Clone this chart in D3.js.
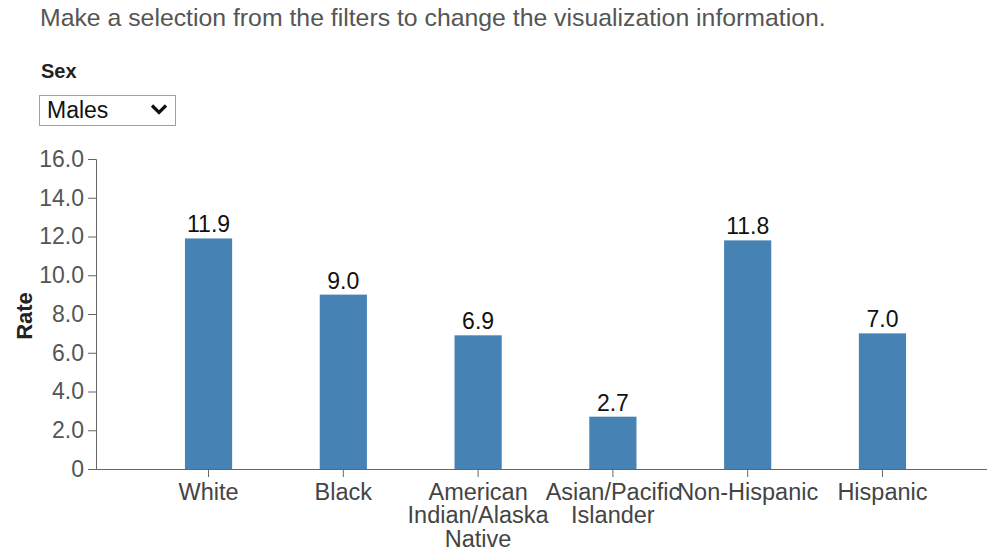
<!DOCTYPE html>
<html>
<head>
<meta charset="utf-8">
<script src="https://cdn.jsdelivr.net/npm/d3@7"></script>
<style>
  html, body { margin: 0; padding: 0; background: #fff; }
  svg { display: block; font-family: "Liberation Sans", Arial, sans-serif; }
</style>
</head>
<body>
<svg id="chart" width="987" height="551"></svg>
<script>
// Rates by race / ethnicity, males
const categories = ["White", "Black", "American Indian/Alaska Native", "Asian/Pacific Islander", "Non-Hispanic", "Hispanic"];
const rates = [11.9, 9.0, 6.9, 2.7, 11.8, 7.0];
const yTicks = [0, 2, 4, 6, 8, 10, 12, 14, 16];
const sexOptions = ["Males"];

const svg = d3.select("#chart");

// Intro line and filter control
svg.append("text")
  .attr("x", 40).attr("y", 26)
  .attr("font-size", "24.8px")
  .attr("fill", "#555")
  .text("Make a selection from the filters to change the visualization information.");

svg.append("text")
  .attr("x", 41).attr("y", 78)
  .attr("font-size", "20px")
  .attr("font-weight", "bold")
  .attr("fill", "#222")
  .text("Sex");

const sel = svg.append("g").attr("transform", "translate(39,95)");
sel.append("rect")
  .attr("x", 0.5).attr("y", 0.5)
  .attr("width", 136).attr("height", 30)
  .attr("fill", "#fff")
  .attr("stroke", "#a0a0a0");
sel.append("text")
  .attr("x", 8).attr("y", 23)
  .attr("font-size", "23px")
  .attr("fill", "#111")
  .text(sexOptions[0]);
sel.append("path")
  .attr("d", "M113,10.5 L120,17.5 L127,10.5")
  .attr("fill", "none")
  .attr("stroke", "#111")
  .attr("stroke-width", 3.2);

// Scales
const x = d3.scaleBand()
  .domain(categories)
  .range([96, 995])
  .paddingInner(0.65)
  .paddingOuter(0.66);

const y = d3.scaleLinear()
  .domain([0, 16])
  .range([469, 159]);

// Bars
svg.append("g")
  .selectAll("rect")
  .data(categories)
  .join("rect")
  .attr("x", d => x(d))
  .attr("width", x.bandwidth())
  .attr("y", (d, i) => y(rates[i]))
  .attr("height", (d, i) => y(0) - y(rates[i]))
  .attr("fill", "#4682b4");

// Value labels
svg.append("g")
  .selectAll("text")
  .data(categories)
  .join("text")
  .attr("x", d => x(d) + x.bandwidth() / 2)
  .attr("y", (d, i) => y(rates[i]) - 6)
  .attr("text-anchor", "middle")
  .attr("font-size", "23px")
  .attr("fill", "#111")
  .text((d, i) => d3.format(".1f")(rates[i]));

// Y axis
const yAxis = svg.append("g")
  .attr("transform", "translate(96,0)")
  .call(d3.axisLeft(y)
    .tickValues(yTicks)
    .tickSize(8)
    .tickPadding(4)
    .tickFormat(d => d === 0 ? "0" : d3.format(".1f")(d)));
yAxis.attr("font-family", null);
yAxis.selectAll("text").attr("font-size", "23px").attr("fill", "#555");
yAxis.selectAll("line, path").attr("stroke", "#666");

// X axis
const xAxis = svg.append("g")
  .attr("transform", "translate(0,469)")
  .call(d3.axisBottom(x).tickSize(8).tickSizeOuter(0).tickPadding(6));
xAxis.attr("font-family", null);
xAxis.selectAll("line, path").attr("stroke", "#666");
xAxis.selectAll("text")
  .attr("font-size", "23.5px")
  .attr("fill", "#444")
  .call(wrap, 150);

// Axis title
svg.append("text")
  .attr("transform", "translate(32,316) rotate(-90)")
  .attr("text-anchor", "middle")
  .attr("font-size", "22px")
  .attr("font-weight", "bold")
  .attr("fill", "#222")
  .text("Rate");

// Break long category names over several lines
function wrap(texts, width) {
  texts.each(function() {
    const text = d3.select(this);
    const words = text.text().split(/\s+/);
    const y0 = text.attr("y");
    const dy = parseFloat(text.attr("dy"));
    text.text(null);
    let line = [];
    let lineNo = 0;
    let tspan = text.append("tspan").attr("x", 0).attr("y", y0).attr("dy", dy + "em");
    for (const w of words) {
      line.push(w);
      tspan.text(line.join(" "));
      if (tspan.node().getComputedTextLength() > width && line.length > 1) {
        line.pop();
        tspan.text(line.join(" "));
        line = [w];
        lineNo++;
        tspan = text.append("tspan")
          .attr("x", 0).attr("y", y0)
          .attr("dy", (lineNo * 1.0 + dy) + "em")
          .text(w);
      }
    }
  });
}
</script>
</body>
</html>
